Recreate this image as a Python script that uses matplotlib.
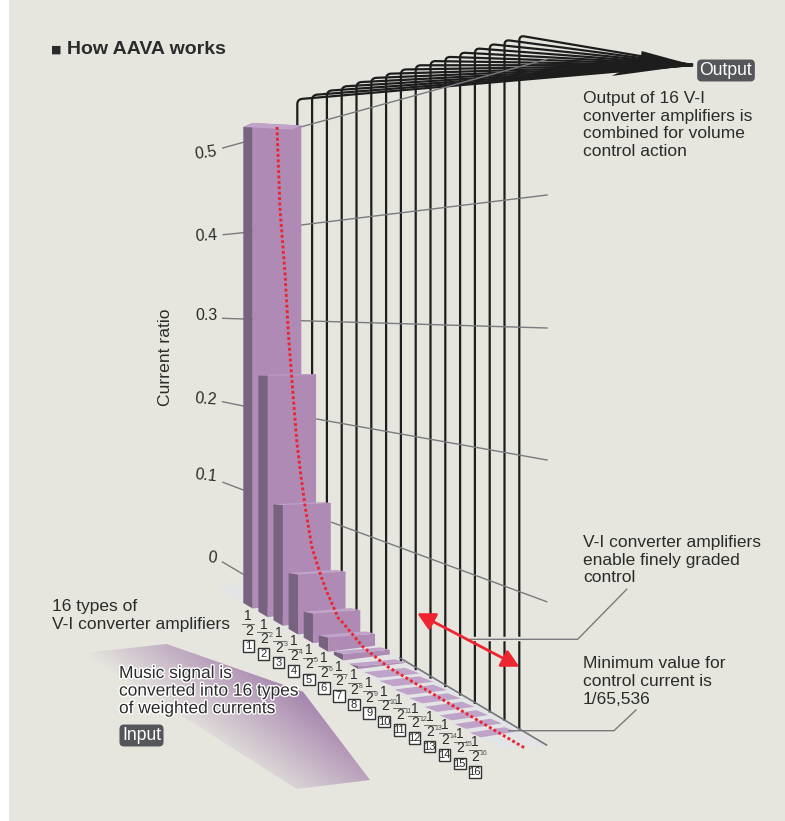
import numpy as np
import matplotlib
matplotlib.use("Agg")
import matplotlib.pyplot as plt
import matplotlib.patheffects as pe
from matplotlib.patches import Polygon, Rectangle, PathPatch
from matplotlib.path import Path

plt.rcParams["font.family"] = ["Liberation Sans", "DejaVu Sans"]

# data
ratios = [0.5, 0.25, 0.125, 0.0625, 0.03125, 0.015625, 0.0078125, 0.00390625,
          0.001953125, 0.0009765625, 0.00048828125, 0.000244140625,
          0.0001220703125, 0.00006103515625, 0.000030517578125, 0.0000152587890625]
exponents = ["", "2", "3", "4", "5", "6", "7", "8", "9", "10", "11", "12", "13", "14", "15", "16"]
amp_labels = ["1", "2", "3", "4", "5", "6", "7", "8", "9", "10", "11", "12", "13", "14", "15", "16"]
tick_labels = ["0", "0.1", "0.2", "0.3", "0.4", "0.5"]

# red curve: position along the bar row, ratio
curve_pos = [0, 0.2, 0.53, 0.77, 1.04, 1.30, 1.59, 1.85, 2.3, 2.85, 3.25, 4.06, 4.37, 5.7, 7.35, 10.3, 13.6, 16.4]
curve_ratio = [0.5, 0.415, 0.351, 0.286, 0.233, 0.183, 0.147, 0.119, 0.080, 0.057, 0.043, 0.021, 0.019, 0.006, 0.0005, 0, 0, 0]

BG = "#e6e6df"
FRONT = "#ae8ab5"
SIDE = "#77637f"
TOP = "#c0a3c9"
FLOOR = "#e3e4e6"
GREY = "#7a7a7e"
INK = "#2b2b2b"
RED = "#ee2530"


def bar_corners(i, v):
    # pseudo 3d projection of one bar to pixel coords
    h = max(960 * v - 4, 0)
    ax_ = 243.3 + 15.1 * i
    ay = 603 + 8.65 * i - h
    if i < 8:
        dx, dy = 9.4, (ay - 450) * 0.0125
        cx, cy = 58 - 0.35 * i, -1.5
    else:
        dx, dy = 14.7 - 0.53 * (i - 8), 5.6 - 0.14 * (i - 8)
        cx, cy = 55.7 - 1.4 * (i - 8), 1.3 - 0.33 * (i - 8)
    A = (ax_, ay)
    D = (ax_ + dx, ay + dy)
    C = (ax_ + cx, ay + cy)
    B = (A[0] + C[0] - D[0], A[1] + C[1] - D[1])
    return A, B, C, D, h


def curve_xy(t, v):
    return 277 + 15.1 * t, 602 + 8.9 * t - 950 * v


def lines_of_text(x, y, rows, **kw):
    # y is the middle of the first row, rows sit on a fixed baseline step
    for n, row in enumerate(rows):
        ax.text(x, y + 5 + n * 17.6, row, fontsize=12.5, color=INK, va="baseline", ha="left", **kw)


fig = plt.figure(figsize=(7.85, 8.21), dpi=100)
ax = fig.add_axes([0, 0, 1, 1])
ax.axis("off")

ax.add_patch(Rectangle((9, 0), 776, 821, fc=BG, ec="none", zorder=0))

# input shape with gradient
input_pts = [(83, 653), (166.7, 644), (303, 691.7), (370, 780), (296.7, 789)]
poly = Polygon(input_pts, closed=True, fc="none", ec="none", zorder=1)
ax.add_patch(poly)
gx, gy = np.meshgrid(np.arange(80, 375), np.arange(640, 795))
dist = -0.6 * (gx - 303) + 0.8 * (gy - 692)
rgba = np.zeros(gx.shape + (4,))
rgba[..., :3] = matplotlib.colors.to_rgb("#a683ad")
rgba[..., 3] = np.clip(1 - dist / 100, 0, 1)
im = ax.imshow(rgba, extent=(80, 375, 795, 640), aspect="auto", zorder=1, interpolation="bilinear")
im.set_clip_path(poly)

# floor
ax.add_patch(Polygon([(216.7, 589), (243, 603), (470, 733), (503, 749), (546, 745), (301, 600), (243, 583)],
                     closed=True, fc=FLOOR, ec="none", zorder=1))
ax.plot([400, 546.5], [658, 745], color=GREY, lw=1.0, zorder=2)

# 16 wires going to the output arrow
tip = (693, 65)
for i in range(16):
    x = 297.3 + 14.8 * i
    top = 99.3 - 4.25 * i
    bottom = 729.3 - 0.57 * (519.3 - x)
    slope = (tip[1] - top) / (tip[0] - x)
    verts = [(x, bottom), (x, top + 5), (x, top), (x + 5, top + 5 * slope), tip]
    codes = [Path.MOVETO, Path.LINETO, Path.CURVE3, Path.CURVE3, Path.LINETO]
    ax.add_patch(PathPatch(Path(verts, codes), fc="none", ec="#1d1d1d", lw=1.6, zorder=3))
ax.add_patch(Polygon([tip, (641.7, 51), (640, 62), (611.7, 76)], closed=True, fc="#1d1d1d", ec="none", zorder=3))

# axis ticks and grid lines
tick_left = [(222.5, 562, 243.3, 574.3), (223, 482.3, 243.3, 490), (222.5, 401.7, 243.3, 406),
             (222.7, 318.3, 253.3, 319.3), (223.3, 234.7, 253.3, 231.7), (222.7, 148, 243.3, 142.3)]
tick_right = [(400, 658, 546.5, 745), (331.7, 522.3, 546.7, 601.7), (316.7, 419, 547, 460),
              (301, 320.7, 547, 328), (301, 225, 547, 195), (301.7, 126.7, 546.7, 59.3)]
tick_text = [(212, 558, -6), (206, 476, -6), (206, 399, -4), (206, 316, 0), (206, 236, 3), (206, 152.7, 8)]
for lab, a, b, t in zip(tick_labels, tick_left, tick_right, tick_text):
    ax.plot([a[0], a[2]], [a[1], a[3]], color=GREY, lw=1.0, zorder=4)
    ax.plot([b[0], b[2]], [b[1], b[3]], color=GREY, lw=1.0, zorder=4)
    ax.text(t[0], t[1], lab, fontsize=11.5, color=INK, ha="center", va="center", rotation=t[2])

# bars, back to front
for i, v in enumerate(ratios):
    A, B, C, D, h = bar_corners(i, v)
    z = 5 + i * 0.01
    if i < 8:
        Ab = (A[0], A[1] + h)
        Db = (D[0], max(Ab[1] + 5.5, D[1] + 2))
        Cb = (C[0], Db[1] - 6)
        ax.add_patch(Polygon([A, D, Db, Ab], closed=True, fc=SIDE, ec="none", zorder=z))
        ax.add_patch(Polygon([D, C, Cb, Db], closed=True, fc=FRONT, ec="none", zorder=z))
    ax.add_patch(Polygon([A, B, C, D], closed=True, fc=TOP, ec="none", zorder=z))

# red dotted curve
cx, cy = zip(*[curve_xy(t, v) for t, v in zip(curve_pos, curve_ratio)])
ax.plot(cx, cy, color=RED, lw=2.1, ls=(0, (1, 0.85)), zorder=7)

# callouts
ax.plot([470, 577.7], [639.3, 639.3], color=BG, lw=3.2, zorder=4.5)
ax.plot([470, 577.7, 626.7], [639.3, 639.3, 589.3], color=GREY, lw=1.0, zorder=8)
ax.plot([509, 614, 636], [730.7, 730.7, 710], color=GREY, lw=1.0, zorder=8)

# red double arrow
ax.annotate("", xy=(519.3, 666.7), xytext=(417.3, 613.3), zorder=9,
            arrowprops=dict(arrowstyle="<|-|>,head_length=0.75,head_width=0.4", color=RED, lw=2.0,
                            shrinkA=0, shrinkB=0, mutation_scale=14))

# fractions and numbered boxes
for i, (exp, lab) in enumerate(zip(exponents, amp_labels)):
    bx = 248.3 + 15.1 * i
    by = 645.7 + 8.4 * i
    ax.text(bx, by - 29.5, "1", fontsize=10, color=INK, ha="center", va="center", zorder=10)
    ax.plot([bx - 6, bx + 6], [by - 21.8, by - 21.8], color="#555555", lw=0.6, zorder=10)
    ax.text(bx + 0.5, by - 15, "2", fontsize=10, color=INK, ha="center", va="center", zorder=10)
    if exp:
        ax.text(bx + 5, by - 18.5, exp, fontsize=5, color="#555555", ha="left", va="center", zorder=10)
    ax.add_patch(Rectangle((bx - 5.8, by - 5.8), 11.6, 11.6, fc="white", ec="#333333", lw=1.0, zorder=10))
    ax.text(bx, by + 0.3, lab, fontsize=8, color=INK, ha="center", va="center", zorder=11)

# text
ax.text(51, 50, "■", fontsize=8, color=INK, ha="left", va="center", family=["DejaVu Sans"])
ax.text(67, 50, "How AAVA works", fontsize=14, fontweight="bold", color=INK, ha="left", va="center")
ax.text(165, 357, "Current ratio", fontsize=12.6, color=INK, rotation=90, ha="center", va="center")
lines_of_text(583, 98, ["Output of 16 V-I", "converter amplifiers is", "combined for volume", "control action"])
lines_of_text(583, 542.3, ["V-I converter amplifiers", "enable finely graded", "control"])
lines_of_text(583, 663.3, ["Minimum value for", "control current is", "1/65,536"])
lines_of_text(52, 606, ["16 types of", "V-I converter amplifiers"])
halo = [pe.withStroke(linewidth=2, foreground="white")]
lines_of_text(119, 673, ["Music signal is", "converted into 16 types", "of weighted currents"],
              path_effects=halo, zorder=12)
chip = dict(boxstyle="round,pad=0.14,rounding_size=0.25", fc="#55565a", ec="none")
ax.text(726, 70.5, "Output", fontsize=12.7, color="white", ha="center", va="center", bbox=chip)
ax.text(141.5, 735.5, "Input", fontsize=12.7, color="white", ha="center", va="center", bbox=chip)

ax.set_xlim(0, 785)
ax.set_ylim(821, 0)
fig.savefig("out.png", dpi=100, facecolor="white")
